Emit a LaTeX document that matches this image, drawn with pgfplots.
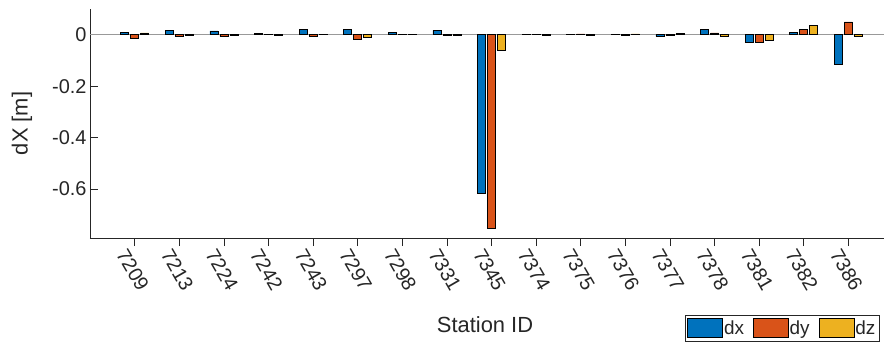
\documentclass[border=0pt]{standalone}
\usepackage{fontspec}
\setmainfont{Liberation Sans}
\usepackage{pgfplots}
\pgfplotsset{compat=1.18}
\definecolor{c1}{RGB}{0,114,189}
\definecolor{c2}{RGB}{217,83,25}
\definecolor{c3}{RGB}{237,177,32}
\definecolor{axc}{RGB}{38,38,38}
\pgfplotstableread{
x dx dy dz
1 0.009 -0.013 0.007
2 0.017 -0.008 -0.002
3 0.015 -0.007 -0.002
4 0.005 0.002 -0.003
5 0.022 -0.008 0.002
6 0.020 -0.018 -0.010
7 0.008 0.002 0.001
8 0.017 -0.002 -0.002
9 -0.617 -0.752 -0.062
10 0.001 0.002 -0.004
11 0.001 0.003 -0.004
12 0.002 -0.003 0.003
13 -0.006 -0.004 0.004
14 0.020 0.007 -0.008
15 -0.028 -0.030 -0.021
16 0.008 0.021 0.035
17 -0.115 0.050 -0.007
}\datatable
\begin{document}
\begin{tikzpicture}
\begin{axis}[
  at={(0,0)}, anchor=south west,
  scale only axis, width=794bp, height=229bp,
  xmin=0, xmax=17.8, ymin=-0.79, ymax=0.1,
  axis x line*=bottom, axis y line*=left,
  axis line style={axc, -, line width=0.6bp},
  tick align=inside, major tick length=8bp,
  tick style={axc, line width=0.6bp},
  xtick={1,...,17},
  xticklabels={7209,7213,7224,7242,7243,7297,7298,7331,7345,7374,7375,7376,7377,7378,7381,7382,7386},
  ytick={-0.6,-0.4,-0.2,0},
  yticklabels={-0.6,-0.4,-0.2,0},
  ticklabel style={font=\fontsize{20}{22}\selectfont, text=axc},
  xticklabel style={rotate=-60, anchor=north west, xshift=-6bp, yshift=-3bp},
  xlabel={Station ID},
  ylabel={dX [m]},
  xlabel style={at={(rel axis cs:0.4975,-0.4148)}, anchor=base, font=\fontsize{22}{24}\selectfont, text=axc},
  ylabel style={at={(rel axis cs:-0.0856,0.5)}, anchor=center, font=\fontsize{22}{24}\selectfont, text=axc},
  ybar=2bp, bar width=8bp,
  mylegend/.style={legend image code/.code={\draw[##1, line width=0.6bp] (0bp,-9.5bp) rectangle (35bp,9.5bp);}},
  legend columns=3,
  legend style={at={(rel axis cs:0.9937,-0.4498)}, anchor=south east,
    draw=axc, line width=0.5bp, fill=white, inner xsep=2.5bp, inner ysep=3bp,
    font=\fontsize{19}{20}\selectfont, text=axc,
    nodes={inner xsep=1bp, inner ysep=1bp},
    /tikz/every even column/.append style={column sep=8bp}},
]
\draw[gray!80, line width=0.8bp] (axis cs:0,0) -- (axis cs:17.8,0);
\addplot[fill=c1, draw=black, line width=0.6bp, mylegend] table[x=x, y=dx] {\datatable};
\addplot[fill=c2, draw=black, line width=0.6bp, mylegend] table[x=x, y=dy] {\datatable};
\addplot[fill=c3, draw=black, line width=0.6bp, mylegend] table[x=x, y=dz] {\datatable};
\legend{dx,dy,dz}
\end{axis}
\pgfresetboundingbox
\useasboundingbox (-90bp,-104bp) rectangle (794bp,238bp);
\end{tikzpicture}
\end{document}
